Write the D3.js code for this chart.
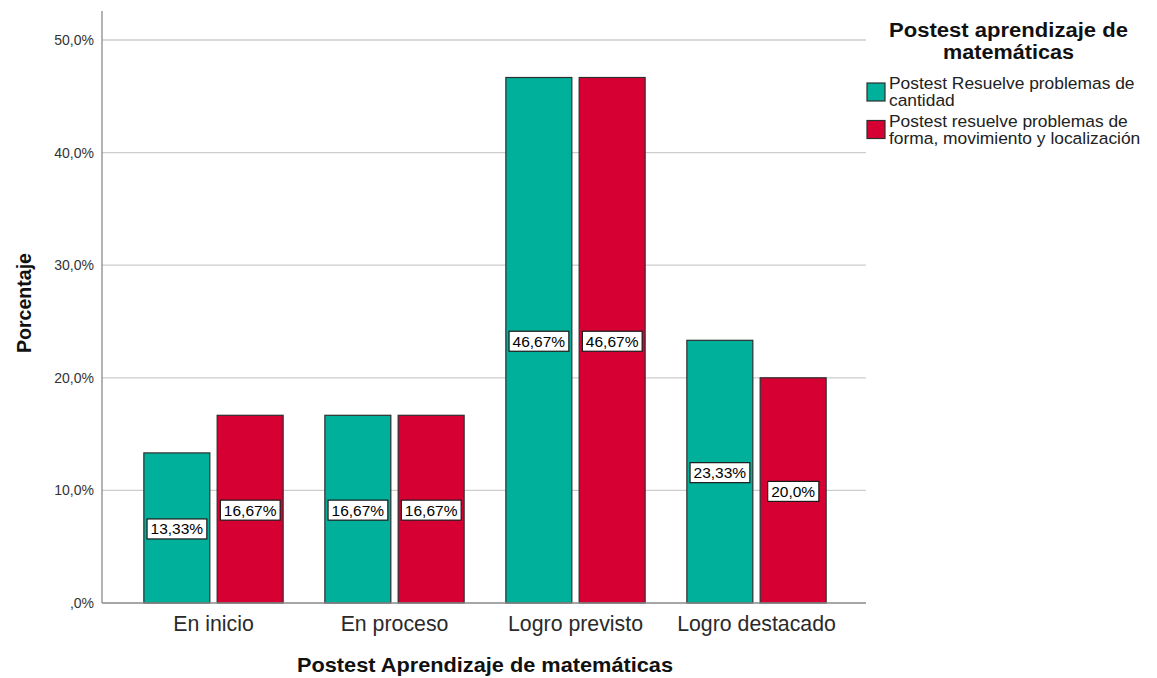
<!DOCTYPE html>
<html><head><meta charset="utf-8">
<script src="https://cdn.jsdelivr.net/npm/d3@7"></script>
<style>body{margin:0;background:#fff}svg{display:block}</style>
</head><body>
<svg id="c" width="1157" height="678"></svg>
<script>
const categories = ["En inicio", "En proceso", "Logro previsto", "Logro destacado"];
const seriesNames = ["Postest Resuelve problemas de cantidad", "Postest resuelve problemas de forma, movimiento y localización"];
const cantidad = [13.33, 16.67, 46.67, 23.33];
const forma = [16.67, 16.67, 46.67, 20.0];
const valueLabelsCantidad = ["13,33%", "16,67%", "46,67%", "23,33%"];
const valueLabelsForma = ["16,67%", "16,67%", "46,67%", "20,0%"];
const yTicks = [0, 10, 20, 30, 40, 50];
const yTickLabels = [",0%", "10,0%", "20,0%", "30,0%", "40,0%", "50,0%"];
const colors = ["#00b09b", "#d70032"];

(function () {
const FONT = "Liberation Sans, Arial, sans-serif";
const svg = d3.select("#c");
const pL = 102, pR = 866, pT = 11, pB = 603;
const y = d3.scaleLinear().domain([0, 50]).range([pB, 40]);
const x = d3.scaleBand().domain(categories).range([pL + 1, pR + 1]).paddingInner(0.2304).paddingOuter(0.2257);
const xs = d3.scaleBand().domain([0, 1]).range([0, x.bandwidth()]).paddingInner(0.1);

// gridlines
svg.append("g").selectAll("line").data(yTicks.filter(d => d > 0)).join("line")
  .attr("x1", pL).attr("x2", pR).attr("y1", d => y(d)).attr("y2", d => y(d))
  .attr("stroke", "#cdcdcd").attr("stroke-width", 1.3);

// y axis
const yAxis = d3.axisLeft(y).tickValues(yTicks).tickFormat((d, i) => yTickLabels[i]).tickSize(0).tickPadding(8);
const ga = svg.append("g").attr("transform", `translate(${pL},0)`).call(yAxis);
ga.select(".domain").remove();
ga.selectAll("text").attr("font-family", FONT).attr("font-size", 14).attr("fill", "#333");
svg.append("line").attr("x1", pL).attr("x2", pL).attr("y1", pT).attr("y2", pB).attr("stroke", "#8a8a8a").attr("stroke-width", 1.3);

// bars
const data = categories.map((c, i) => ({c, vals: [cantidad[i], forma[i]], labs: [valueLabelsCantidad[i], valueLabelsForma[i]]}));
const g = svg.append("g");
data.forEach(d => {
  d.vals.forEach((v, j) => {
    const bx = x(d.c) + xs(j);
    g.append("rect").attr("x", bx).attr("y", y(v)).attr("width", xs.bandwidth()).attr("height", y(0) - y(v))
      .attr("fill", colors[j]).attr("stroke", "#2e2e2e").attr("stroke-width", 1.2);
  });
});
svg.append("line").attr("x1", pL).attr("x2", pR).attr("y1", pB).attr("y2", pB).attr("stroke", "#8a8a8a").attr("stroke-width", 1.3);

// value labels
data.forEach(d => {
  d.vals.forEach((v, j) => {
    const cx = x(d.c) + xs(j) + xs.bandwidth() / 2;
    const cy = y(v / 2) + 1;
    const t = g.append("text").attr("x", cx).attr("y", cy + 5.5).attr("text-anchor", "middle")
      .attr("font-family", FONT).attr("font-size", 15.5).attr("fill", "#000").text(d.labs[j]);
    const bb = t.node().getBBox();
    g.insert("rect", () => t.node()).attr("x", bb.x - 3.5).attr("y", cy - 10).attr("width", bb.width + 7).attr("height", 20)
      .attr("fill", "#fff").attr("stroke", "#1a1a1a").attr("stroke-width", 1.2);
  });
});

// x axis
const xAxis = d3.axisBottom(x).tickSize(0).tickPadding(13);
const gx = svg.append("g").attr("transform", `translate(0,${pB})`).call(xAxis);
gx.select(".domain").remove();
gx.selectAll("text").attr("font-family", FONT).attr("font-size", 21.3).attr("fill", "#2a2a2a");

// axis titles
svg.append("text").attr("x", 485).attr("y", 671.5).attr("text-anchor", "middle")
  .attr("font-family", FONT).attr("font-weight", "bold").attr("font-size", 21).attr("fill", "#111")
  .attr("textLength", 376).attr("lengthAdjust", "spacingAndGlyphs")
  .text("Postest Aprendizaje de matemáticas");
svg.append("text").attr("transform", "translate(31,303) rotate(-90)").attr("text-anchor", "middle")
  .attr("font-family", FONT).attr("font-weight", "bold").attr("font-size", 21).attr("fill", "#111")
  .attr("textLength", 100).attr("lengthAdjust", "spacingAndGlyphs")
  .text("Porcentaje");

// legend
const lg = svg.append("g");
[["Postest aprendizaje de", 36.7, 239], ["matemáticas", 59.3, 131]].forEach(([s, yy, w]) => {
  lg.append("text").attr("x", 1008.5).attr("y", yy).attr("text-anchor", "middle")
    .attr("font-family", FONT).attr("font-weight", "bold").attr("font-size", 19.5).attr("fill", "#111")
    .attr("textLength", w).attr("lengthAdjust", "spacingAndGlyphs").text(s);
});
const legLines = [["Postest Resuelve problemas de", "cantidad"], ["Postest resuelve problemas de", "forma, movimiento y localización"]];
legLines.forEach((lines, i) => {
  const sy = 83 + i * 37.5;
  lg.append("rect").attr("x", 867).attr("y", sy).attr("width", 18).attr("height", 18).attr("fill", colors[i]).attr("stroke", "#2e2e2e").attr("stroke-width", 1.2);
  lines.forEach((s, k) => {
    lg.append("text").attr("x", 889).attr("y", sy + 6 + k * 17.2).attr("font-family", FONT)
      .attr("font-size", 17.4).attr("fill", "#222").text(s);
  });
});
})();
</script>
</body></html>
